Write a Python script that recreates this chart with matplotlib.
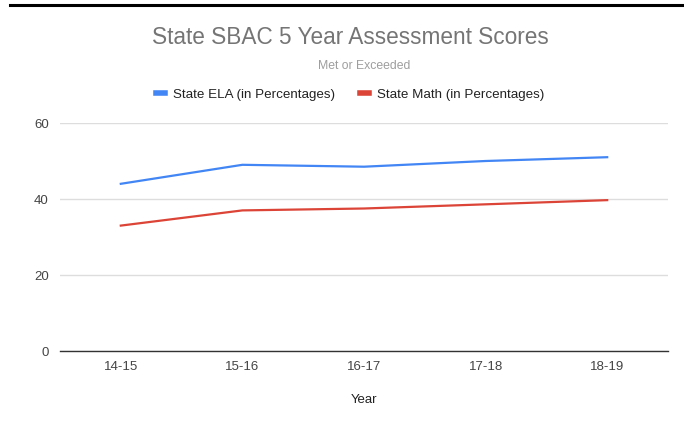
import matplotlib.pyplot as plt
from matplotlib.lines import Line2D

# datos
years = ['14-15', '15-16', '16-17', '17-18', '18-19']
ela = [44, 49, 48.5, 50, 51]
math = [33, 37, 37.5, 38.6, 39.7]
y_ticks = [0, 20, 40, 60]

plt.rcParams['font.family'] = ['Liberation Sans', 'DejaVu Sans']

fig = plt.figure(figsize=(6.84, 4.23), dpi=100)
ax = fig.add_axes([60 / 684, 1 - 351 / 423, 608 / 684, 228 / 423])

x = list(range(len(years)))
ax.plot(x, ela, color='#4285F4', lw=1.6, label='State ELA (in Percentages)')
ax.plot(x, math, color='#DB4437', lw=1.6, label='State Math (in Percentages)')

ax.set_xlim(-0.5, len(years) - 0.5)
ax.set_ylim(0, 60)
ax.set_yticks(y_ticks)
ax.set_xticks(x)
ax.set_xticklabels(years)
ax.tick_params(length=0, labelsize=9.5, colors='#444444', pad=7)
ax.tick_params(axis='y', pad=8)
ax.grid(axis='y', color='#dddddd', lw=1)
ax.set_axisbelow(True)
for s in ['top', 'right', 'left']:
    ax.spines[s].set_visible(False)
ax.spines['bottom'].set_color('#333333')
ax.spines['bottom'].set_linewidth(1)

ax.set_xlabel('Year', fontsize=9.5, color='#222222', labelpad=15)

fig.text(0.512, 1 - 38 / 423, 'State SBAC 5 Year Assessment Scores', ha='center', va='center',
         fontsize=16.3, color='#757575')
fig.text(0.532, 1 - 66 / 423, 'Met or Exceeded', ha='center', va='center',
         fontsize=8.8, color='#9e9e9e')

leg = fig.legend(loc='center', bbox_to_anchor=(0.512, 1 - 95 / 423), ncol=2, frameon=False,
                 fontsize=9.6, handlelength=0.7, handletextpad=0.6, columnspacing=1.8)
for h in leg.legend_handles:
    h.set_linewidth(4)
for t in leg.get_texts():
    t.set_color('#222222')

# linea negra del documento arriba
fig.add_artist(Line2D([10 / 684, 1], [1 - 5 / 423, 1 - 5 / 423], color='black', lw=2.2,
                      transform=fig.transFigure))

fig.savefig('out.png', dpi=100)
